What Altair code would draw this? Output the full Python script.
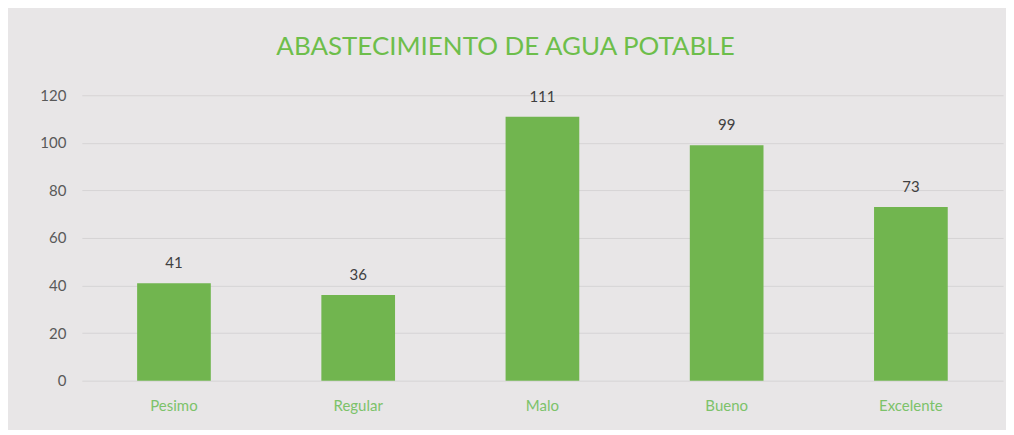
import altair as alt
import pandas as pd

categorias = ["Pesimo", "Regular", "Malo", "Bueno", "Excelente"]
valores = [41, 36, 111, 99, 73]
titulo = "ABASTECIMIENTO DE AGUA POTABLE"
y_ticks = [0, 20, 40, 60, 80, 100, 120]

df = pd.DataFrame({"categoria": categorias, "valor": valores})

FONT = "Lato"

base = alt.Chart(df).encode(
    x=alt.X(
        "categoria:N",
        sort=categorias,
        title=None,
        scale=alt.Scale(paddingInner=0.6, paddingOuter=0.3),
        axis=alt.Axis(
            labelAngle=0,
            labelColor="#7CC26A",
            labelFont=FONT,
            labelFontSize=15,
            labelPadding=18,
            domain=False,
            ticks=False,
            grid=False,
        ),
    ),
    y=alt.Y(
        "valor:Q",
        title=None,
        scale=alt.Scale(domain=[0, 120], nice=False),
        axis=alt.Axis(
            values=y_ticks,
            labelColor="#595959",
            labelFont=FONT,
            labelFontSize=15,
            labelPadding=16,
            domain=False,
            ticks=False,
            gridColor="#D6D4D5",
            gridWidth=1,
        ),
    ),
)

bars = base.mark_bar(color="#71B54F")
labels = base.mark_text(
    baseline="bottom", dy=-12, font=FONT, fontSize=15, color="#404040"
).encode(text="valor:Q")

chart = (
    (bars + labels)
    .properties(
        width=923,
        height=286,
        padding={"left": 74, "top": 87, "right": 3, "bottom": 49},
        autosize=alt.AutoSizeParams(type="none"),
        background="#E8E6E7",
        title=alt.TitleParams(
            titulo,
            color="#6DBE4B",
            font=FONT,
            fontSize=26,
            fontWeight="normal",
            anchor="middle",
            dx=-37,
            offset=28,
        ),
    )
    .configure_view(stroke=None)
)

chart.save("out.html", embed_options={"renderer": "svg", "actions": False})
